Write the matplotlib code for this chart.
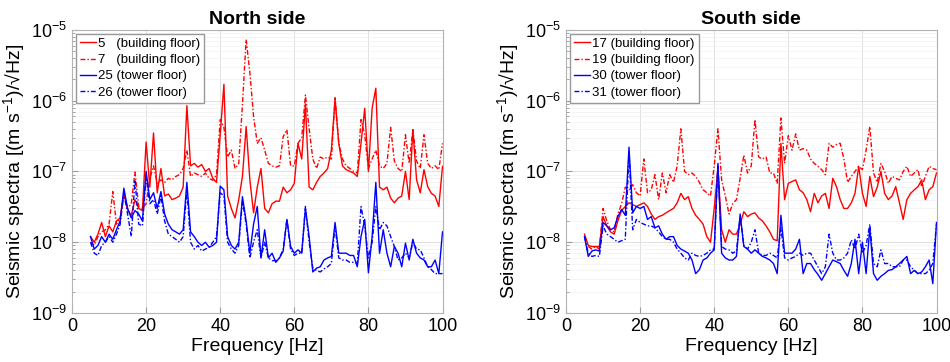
import numpy as np
import matplotlib
matplotlib.use("Agg")
import matplotlib.pyplot as plt

plt.rcParams['font.family'] = ['Liberation Sans', 'DejaVu Sans']
plt.rcParams['mathtext.fontset'] = 'custom'
plt.rcParams['mathtext.rm'] = 'Liberation Sans'

# frequency grid [Hz], one value per Hz
freq = np.arange(5, 101)

# spectra in units of 1e-9 (m s^-1)/sqrt(Hz)
# North side
ch5 = [12, 10, 13, 19, 12, 17, 14, 20, 22, 50, 29, 24, 40, 30, 28, 260,
       60, 350, 50, 110, 45, 48, 40, 42, 45, 60, 850, 120, 130, 115, 125, 100,
       110, 80, 70, 330, 1700, 45, 30, 22, 40, 85, 430, 76, 26, 60, 110, 30,
       26, 35, 38, 38, 60, 50, 55, 68, 250, 150, 900, 60, 55, 70, 85, 95,
       110, 200, 1050, 250, 120, 106, 100, 95, 85, 250, 780, 100, 780, 1500, 60, 55,
       60, 42, 36, 42, 45, 100, 40, 390, 76, 50, 106, 61, 49, 45, 32, 118]
ch7 = [10, 9, 12, 14, 15, 18, 52, 18, 22, 45, 30, 35, 98, 32, 30, 35,
       80, 120, 68, 76, 70, 80, 76, 85, 90, 110, 200, 85, 95, 90, 85, 95,
       80, 75, 90, 540, 420, 160, 200, 110, 130, 880, 7300, 2500, 600, 250, 300, 200,
       130, 120, 115, 120, 310, 390, 120, 120, 250, 300, 1200, 400, 150, 110, 160, 150,
       160, 150, 1100, 250, 150, 120, 110, 100, 95, 540, 330, 110, 150, 200, 120, 110,
       130, 420, 140, 110, 100, 330, 130, 390, 140, 110, 330, 130, 110, 120, 106, 250]
ch25 = [12, 8, 9, 12, 10, 13, 11, 15, 20, 58, 30, 22, 28, 25, 20, 100,
        40, 50, 30, 52, 25, 18, 15, 14, 13, 15, 70, 14, 12, 10, 9, 10,
        8.5, 9, 10, 62, 55, 12, 9, 8, 10, 44, 20, 7, 18, 32, 6, 15,
        6, 7, 5.2, 6, 7.5, 21, 8.7, 7, 7.8, 7, 30, 12, 3.8, 4.3, 4.5, 5.6,
        6, 6.3, 19, 7, 7, 7, 6.5, 6.5, 4.5, 12, 21, 3.7, 12, 70, 7, 15,
        7, 4.5, 8.7, 7, 4.5, 9.7, 5.6, 11, 7, 6, 5.6, 4.5, 4.5, 5.6, 3.6, 14]
ch26 = [10, 7, 6.5, 9, 10, 12, 10, 13, 18, 50, 25, 12, 76, 18, 17, 85,
        35, 40, 25, 45, 20, 13, 12, 11, 10, 12, 55, 10, 8, 9, 7.5, 8,
        8.5, 10, 12, 50, 45, 10, 8, 7, 9, 38, 18, 6, 10, 15, 6, 10,
        6, 5.5, 5.5, 6, 8, 21, 8, 6.5, 7, 7, 32, 10, 4.3, 4, 3.8, 4.2,
        4.5, 5, 17, 6, 5.6, 5.6, 5.2, 5.2, 5, 32, 17, 6, 10, 32, 15, 19,
        17, 12, 8.7, 5.6, 6, 7, 6, 10, 8, 7.8, 6, 4.5, 4.1, 3.6, 3.6, 3.6]

# South side
ch17 = [13, 9, 8.7, 8.7, 8.7, 23, 17, 14, 13, 20, 28, 32, 36, 34, 32, 34,
        36, 32, 25, 21, 23, 24, 26, 28, 30, 36, 49, 40, 44, 30, 24, 21,
        18, 12, 10, 30, 110, 15, 10, 15, 13, 13, 18, 27, 23, 25, 26, 22,
        20, 17, 14, 11, 10.5, 250, 40, 68, 72, 76, 55, 50, 40, 27, 49, 36,
        45, 49, 30, 80, 61, 40, 30, 30, 36, 49, 118, 49, 32, 85, 44, 60,
        100, 49, 40, 45, 61, 36, 21, 40, 49, 55, 61, 76, 40, 55, 61, 95]
ch19 = [12, 8.7, 8, 8.7, 8, 30, 20, 15, 14, 25, 35, 60, 55, 65, 50, 45,
        150, 50, 55, 90, 40, 95, 50, 90, 70, 120, 400, 100, 90, 95, 85, 70,
        55, 50, 45, 120, 400, 76, 45, 25, 35, 40, 80, 170, 95, 120, 540, 160,
        150, 160, 95, 95, 68, 570, 130, 320, 200, 340, 200, 210, 200, 150, 130, 118,
        106, 90, 250, 220, 240, 250, 150, 70, 85, 100, 118, 106, 200, 430, 95, 70,
        130, 100, 68, 85, 80, 76, 100, 118, 85, 95, 106, 61, 85, 118, 110, 106]
ch30 = [12, 6.3, 7.5, 7.8, 7.5, 19, 17, 15, 16, 23, 29, 24, 220, 26, 32, 30,
        32, 21, 23, 16, 17, 13, 11, 12, 12, 9, 8, 7.5, 7, 5.6, 3.6, 4.1,
        5.6, 6, 7, 7.8, 130, 7, 6, 5.6, 5.6, 6.3, 25, 8.7, 8, 7, 7.8, 7,
        6.3, 6, 5.6, 5, 3.6, 24, 7, 7, 7, 8, 11, 3.6, 5, 5, 4.1, 3.5,
        2.9, 3.6, 4.5, 5.6, 5.3, 5, 4, 3.3, 5, 11, 3.6, 10, 3.6, 16, 3.6, 2.9,
        3.3, 3.6, 4, 4.1, 4.5, 5, 5.6, 6.3, 3.6, 4, 3.6, 3.8, 4.5, 5.6, 2.6, 19]
ch31 = [12, 7, 6.3, 6.5, 6.3, 17, 13, 12, 11, 10, 10.5, 11, 180, 15, 21, 19,
        18, 17, 17, 16, 14, 12, 11, 11, 10, 8, 7, 6, 5.6, 7, 6.5, 6.3,
        6.5, 7, 7.8, 8, 120, 8.7, 8, 7.8, 7, 7.5, 23, 9, 8, 10, 15, 7,
        6.5, 6.5, 7, 6.5, 6, 16, 6, 5.6, 6, 6.3, 7, 6.5, 7, 7, 5.6, 4.5,
        3.6, 4.5, 13, 7, 5.6, 5.6, 6, 7, 10.8, 8, 13, 7, 9, 18, 5, 4.5,
        7.8, 5, 5, 4.5, 4.5, 4.5, 5.6, 5.6, 4.5, 4, 3.6, 3.6, 3.6, 4, 5, 18]

panels = [
    ("North side", [(ch5, "5   (building floor)", "r", "-"),
                    (ch7, "7   (building floor)", "r", "-."),
                    (ch25, "25 (tower floor)", "b", "-"),
                    (ch26, "26 (tower floor)", "b", "-.")]),
    ("South side", [(ch17, "17 (building floor)", "r", "-"),
                    (ch19, "19 (building floor)", "r", "-."),
                    (ch30, "30 (tower floor)", "b", "-"),
                    (ch31, "31 (tower floor)", "b", "-.")]),
]

fig = plt.figure(figsize=(9.5, 3.62), dpi=100)
lefts = [0.0758, 0.5958]

for left, (title, curves) in zip(lefts, panels):
    ax = fig.add_axes([left, 0.1354, 0.3900, 0.7820])
    for vals, lab, col, ls in curves:
        line, = ax.semilogy(freq, np.array(vals) * 1e-9, color=col, lw=1.0, label=lab)
        if ls == "-.":
            line.set_dashes((3.5, 1.5, 1, 1.5))
    ax.set_xlim(0, 100)
    ax.set_ylim(1e-9, 1e-5)
    ax.set_xticks([0, 20, 40, 60, 80, 100])
    ax.set_yticks([1e-9, 1e-8, 1e-7, 1e-6, 1e-5])
    ax.grid(True, which='major', color='0.88', lw=0.7)
    ax.grid(True, which='minor', axis='y', color='0.94', lw=0.5)
    ax.set_axisbelow(True)
    ax.tick_params(direction='in', labelsize=13, color='0.6', length=4)
    ax.tick_params(which='minor', direction='in', color='0.6', length=2)
    for sp in ax.spines.values():
        sp.set_color('0.7')
    ax.set_title(title, fontsize=14, fontweight='bold', pad=4)
    ax.set_xlabel("Frequency [Hz]", fontsize=14, labelpad=2)
    ax.set_ylabel("Seismic spectra [(m s$^{-1}$)/\u221aHz]", fontsize=14, labelpad=2)
    ax.legend(loc='upper left', fontsize=9.5, handlelength=1.2, handletextpad=0.2,
              borderpad=0.3, labelspacing=0.3, fancybox=False, framealpha=1,
              edgecolor='0.6', borderaxespad=0.3)

fig.savefig("out.png", dpi=100)
